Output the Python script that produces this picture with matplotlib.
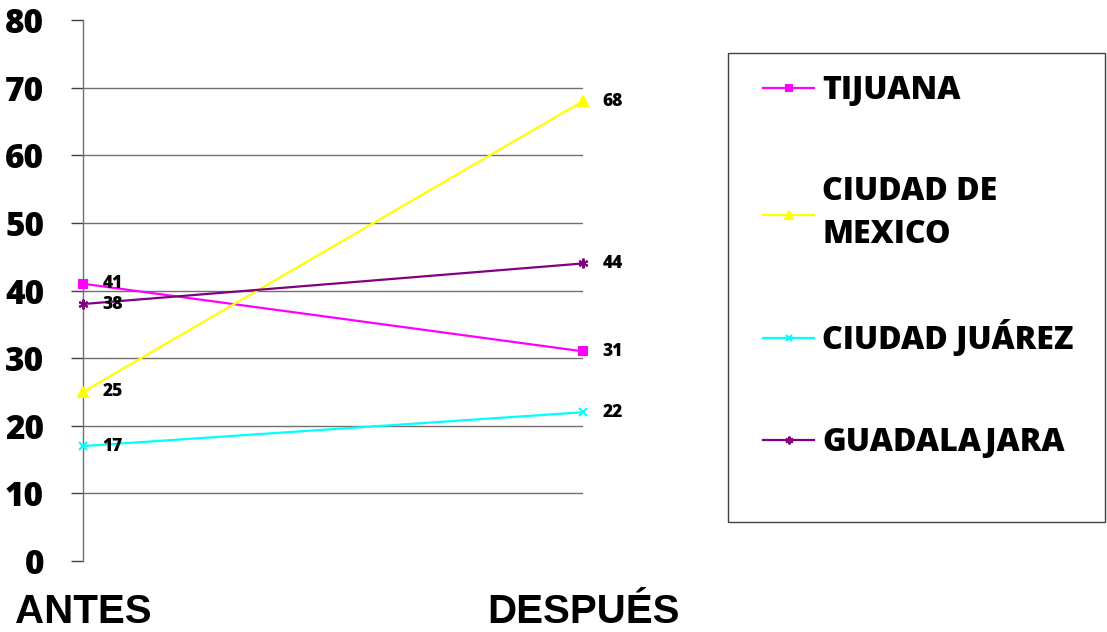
import matplotlib.pyplot as plt
from matplotlib.patches import Rectangle

# datos: antes / después por ciudad
periodos = ['ANTES', 'DESPUÉS']
ciudades = ['TIJUANA', 'CIUDAD DE\nMEXICO', 'CIUDAD JUÁREZ', 'GUADALAJARA']
tijuana = [41, 31]
cdmx = [25, 68]
juarez = [17, 22]
guadalajara = [38, 44]

series = [tijuana, cdmx, juarez, guadalajara]
colores = ['#FF00FF', '#FFFF00', '#00FFFF', '#800080']
marcadores = ['s', '^', 'x', (6, 2, 0)]
tamanos = [6, 7, 6, 7]

fuente = ['Open Sans', 'DejaVu Sans']

fig = plt.figure(figsize=(11.07, 6.32), dpi=100)
ax = fig.add_axes([83 / 1107, 1 - 561 / 632, 500 / 1107, 541 / 632])

x = list(range(len(periodos)))
for datos, nombre, c, m, ms in zip(series, ciudades, colores, marcadores, tamanos):
    ax.plot(x, datos, color=c, lw=1.6, marker=m, ms=ms, mew=1.5,
            label=nombre, clip_on=False, zorder=3)
    for xi, v in zip(x, datos):
        ax.annotate(str(v), (xi, v), xytext=(14, 0), textcoords='offset points',
                    ha='left', va='center', fontsize=12.5, fontweight='heavy',
                    family=fuente, color='black', annotation_clip=False)

ax.set_xlim(0, 1)
ax.set_ylim(0, 80)
ax.set_yticks(range(0, 81, 10))
ax.set_xticks(x)
ax.set_xticklabels(periodos, fontsize=29, fontweight='bold',
                   family=['Liberation Sans', 'DejaVu Sans'])
ax.tick_params(axis='x', length=0, pad=23)
ax.tick_params(axis='y', length=9, width=1, color='#404040', pad=19,
               labelsize=24)
for lab in ax.get_yticklabels():
    lab.set_fontweight('heavy')
    lab.set_family(fuente)

# líneas de división solo entre 10 y 70
for yv in range(10, 80, 10):
    ax.axhline(yv, color='#707070', lw=1, zorder=1)

for s in ['top', 'right', 'bottom']:
    ax.spines[s].set_visible(False)
ax.spines['left'].set_color('#707070')
ax.spines['left'].set_linewidth(1)

# cuadro de la leyenda
fig.patches.append(Rectangle((728 / 1107, 1 - 522 / 632), 377 / 1107, 469 / 632,
                             transform=fig.transFigure, fill=False,
                             edgecolor='#404040', lw=1))
leg = fig.legend(loc='upper left', bbox_to_anchor=(763 / 1107, 1 - 75 / 632),
                 frameon=False, borderpad=0, borderaxespad=0,
                 handlelength=1.6, handletextpad=0.25, labelspacing=2.17,
                 prop={'family': fuente, 'weight': 'heavy', 'size': 23},
                 markerscale=0.8)
for t in leg.get_texts():
    t.set_linespacing(1.45)

fig.savefig('out.png', dpi=100)
